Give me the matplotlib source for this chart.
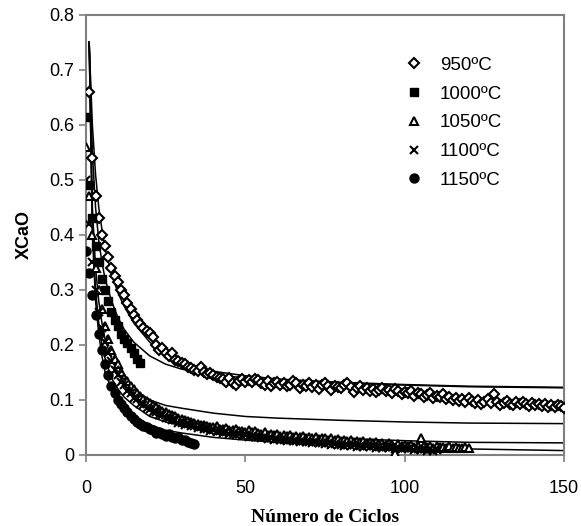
import numpy as np
import matplotlib
matplotlib.use("Agg")
import matplotlib.pyplot as plt

# ── data ─────────────────────────────────────────────────────────
x950 = np.arange(1, 151)
y950 = [0.66, 0.54, 0.47, 0.43, 0.40, 0.38, 0.36, 0.34, 0.325, 0.315,
        0.30, 0.29, 0.276, 0.265, 0.255, 0.245, 0.238, 0.23, 0.225, 0.222,
        0.215, 0.20, 0.19, 0.195, 0.185, 0.18, 0.185, 0.173, 0.17, 0.168,
        0.165, 0.16, 0.158, 0.155, 0.152, 0.16, 0.15, 0.148, 0.149, 0.145,
        0.142, 0.14, 0.138, 0.132, 0.14, 0.13, 0.128, 0.135, 0.138, 0.133,
        0.136, 0.132, 0.138, 0.136, 0.13, 0.128, 0.135, 0.125, 0.13, 0.133,
        0.128, 0.131, 0.125, 0.127, 0.135, 0.13, 0.122, 0.128, 0.126, 0.13,
        0.124, 0.127, 0.12, 0.128, 0.131, 0.125, 0.118, 0.126, 0.124, 0.121,
        0.127, 0.13, 0.124, 0.115, 0.121, 0.126, 0.119, 0.122, 0.117, 0.12,
        0.114, 0.119, 0.122, 0.116, 0.118, 0.113, 0.12, 0.116, 0.11, 0.115,
        0.112, 0.117, 0.108, 0.113, 0.11, 0.105, 0.109, 0.112, 0.104, 0.108,
        0.105, 0.11, 0.102, 0.106, 0.10, 0.104, 0.098, 0.101, 0.097, 0.103,
        0.099, 0.095, 0.10, 0.093, 0.097, 0.101, 0.094, 0.11, 0.096, 0.091,
        0.095, 0.099, 0.093, 0.09, 0.096, 0.092, 0.097, 0.093, 0.089, 0.094,
        0.09, 0.093, 0.089, 0.092, 0.088, 0.091, 0.087, 0.09, 0.089, 0.086]

x1000 = np.arange(0, 18)
y1000 = [0.615, 0.49, 0.43, 0.38, 0.35, 0.32, 0.30, 0.28, 0.26, 0.245,
         0.235, 0.22, 0.21, 0.203, 0.195, 0.185, 0.175, 0.168]

x1050 = np.arange(0, 121)
y1050 = [0.56, 0.47, 0.40, 0.34, 0.30, 0.265, 0.235, 0.21, 0.19, 0.175,
         0.165, 0.15, 0.14, 0.135, 0.125, 0.12, 0.112, 0.108, 0.102, 0.098,
         0.094, 0.09, 0.087, 0.083, 0.08, 0.078, 0.075, 0.072, 0.07, 0.068,
         0.066, 0.063, 0.062, 0.06, 0.058, 0.057, 0.055, 0.054, 0.052, 0.051,
         0.05, 0.052, 0.048, 0.047, 0.049, 0.046, 0.045, 0.048, 0.044, 0.043,
         0.042, 0.045, 0.041, 0.043, 0.04, 0.038, 0.042, 0.037, 0.039, 0.036,
         0.038, 0.035, 0.037, 0.034, 0.036, 0.033, 0.035, 0.032, 0.034, 0.031,
         0.033, 0.03, 0.032, 0.029, 0.031, 0.03, 0.028, 0.03, 0.027, 0.029,
         0.026, 0.028, 0.025, 0.027, 0.024, 0.026, 0.023, 0.025, 0.022, 0.024,
         0.021, 0.023, 0.02, 0.022, 0.019, 0.021, 0.018, 0.003, 0.02, 0.017,
         0.019, 0.016, 0.018, 0.015, 0.017, 0.03, 0.016, 0.014, 0.017, 0.013,
         0.016, 0.014, 0.015, 0.013, 0.016, 0.012, 0.014, 0.013, 0.012, 0.014,
         0.012]

x1100 = np.arange(0, 111)
y1100 = [0.50, 0.42, 0.35, 0.30, 0.26, 0.23, 0.205, 0.185, 0.17, 0.155,
         0.145, 0.133, 0.127, 0.116, 0.112, 0.103, 0.101, 0.093, 0.091, 0.086,
         0.084, 0.079, 0.078, 0.073, 0.072, 0.068, 0.067, 0.063, 0.063, 0.059,
         0.059, 0.055, 0.056, 0.052, 0.053, 0.049, 0.05, 0.047, 0.047, 0.044,
         0.045, 0.042, 0.043, 0.04, 0.041, 0.038, 0.039, 0.036, 0.038, 0.035,
         0.036, 0.033, 0.035, 0.032, 0.033, 0.031, 0.032, 0.029, 0.031, 0.028,
         0.029, 0.027, 0.028, 0.026, 0.027, 0.025, 0.026, 0.024, 0.025, 0.023,
         0.024, 0.022, 0.023, 0.021, 0.022, 0.02, 0.021, 0.019, 0.02, 0.018,
         0.019, 0.017, 0.019, 0.016, 0.018, 0.015, 0.017, 0.015, 0.016, 0.014,
         0.016, 0.013, 0.015, 0.013, 0.014, 0.012, 0.014, 0.011, 0.013, 0.011,
         0.012, 0.01, 0.012, 0.009, 0.011, 0.009, 0.011, 0.008, 0.01, 0.008,
         0.009]

x1150 = np.arange(0, 35)
y1150 = [0.37, 0.33, 0.29, 0.255, 0.22, 0.19, 0.165, 0.145, 0.125, 0.112,
         0.10, 0.092, 0.085, 0.078, 0.07, 0.065, 0.06, 0.056, 0.052, 0.05,
         0.048, 0.045, 0.04, 0.042, 0.038, 0.035, 0.038, 0.032, 0.03, 0.033,
         0.027, 0.028, 0.024, 0.022, 0.02]

# fitted curves (read at a few cycle numbers)
fit_x = [1, 2, 3, 4, 5, 6, 8, 10, 12, 15, 20, 25, 30, 40, 50, 60, 80, 100, 120, 150]
fit950 = [0.75, 0.60, 0.51, 0.45, 0.41, 0.375, 0.33, 0.295, 0.27, 0.24,
          0.205, 0.182, 0.168, 0.152, 0.144, 0.138, 0.132, 0.128, 0.125, 0.123]
fit1000 = [0.75, 0.55, 0.45, 0.39, 0.35, 0.32, 0.28, 0.25, 0.228, 0.205,
           0.18, 0.165, 0.156, 0.146, 0.14, 0.136, 0.131, 0.127, 0.124, 0.122]
fit1050 = [0.75, 0.45, 0.34, 0.28, 0.24, 0.21, 0.175, 0.15, 0.135, 0.12,
           0.10, 0.09, 0.085, 0.076, 0.07, 0.067, 0.063, 0.06, 0.058, 0.057]
fit1100 = [0.75, 0.42, 0.30, 0.24, 0.20, 0.175, 0.14, 0.12, 0.105, 0.09,
           0.07, 0.06, 0.053, 0.045, 0.04, 0.036, 0.03, 0.026, 0.023, 0.022]
fit1150 = [0.75, 0.40, 0.28, 0.22, 0.18, 0.15, 0.12, 0.10, 0.085, 0.07,
           0.055, 0.045, 0.04, 0.032, 0.027, 0.023, 0.018, 0.014, 0.011, 0.008]

yticks = [0, 0.1, 0.2, 0.3, 0.4, 0.5, 0.6, 0.7, 0.8]
ytick_labels = ["0", "0.1", "0.2", "0.3", "0.4", "0.5", "0.6", "0.7", "0.8"]
xticks = [0, 50, 100, 150]

# ── plot ─────────────────────────────────────────────────────────
plt.rcParams["font.family"] = ["Liberation Sans", "DejaVu Sans"]
GRAY = "#808080"

fig = plt.figure(figsize=(5.81, 5.26), dpi=100)
ax = fig.add_axes([0.148, 0.135, 0.823, 0.837])

for fy in [fit950, fit1000, fit1050, fit1100, fit1150]:
    ax.plot(fit_x, fy, color="black", lw=1.1, zorder=2)

ms = 5.5
ax.plot(x950, y950, ls="none", marker="D", ms=ms - 0.5, mfc="white", mec="black",
        mew=1.5, label="950ºC", zorder=3)
ax.plot(x1000, y1000, ls="none", marker="s", ms=ms + 0.5, mfc="black", mec="black",
        label="1000ºC", zorder=3)
ax.plot(x1050, y1050, ls="none", marker="^", ms=ms, mfc="white", mec="black",
        mew=1.5, label="1050ºC", zorder=3)
ax.plot(x1100, y1100, ls="none", marker="x", ms=ms, mec="black",
        mew=1.5, label="1100ºC", zorder=3)
ax.plot(x1150, y1150, ls="none", marker="o", ms=ms + 1, mfc="black", mec="black",
        label="1150ºC", zorder=3)

ax.set_xlim(0, 150)
ax.set_ylim(0, 0.8)
ax.set_xticks(xticks)
ax.set_yticks(yticks)
ax.set_yticklabels(ytick_labels)
ax.tick_params(labelsize=13, colors="black", length=5, width=1.2, direction="out")
ax.tick_params(axis="x", pad=13)
for sp in ax.spines.values():
    sp.set_color(GRAY)
    sp.set_linewidth(1.5)
ax.tick_params(color=GRAY)

ax.set_ylabel("XCaO", fontsize=13, fontweight="bold", labelpad=12)
ax.set_xlabel("Número de Ciclos", fontsize=14, fontweight="bold",
              family=["Liberation Serif", "DejaVu Serif"], labelpad=9)

ax.legend(loc="upper left", bbox_to_anchor=(0.628, 0.943), frameon=False,
          fontsize=13.5, handletextpad=0.75, labelspacing=0.62, handlelength=1.2)

fig.savefig("out.png", dpi=100, facecolor="white")
